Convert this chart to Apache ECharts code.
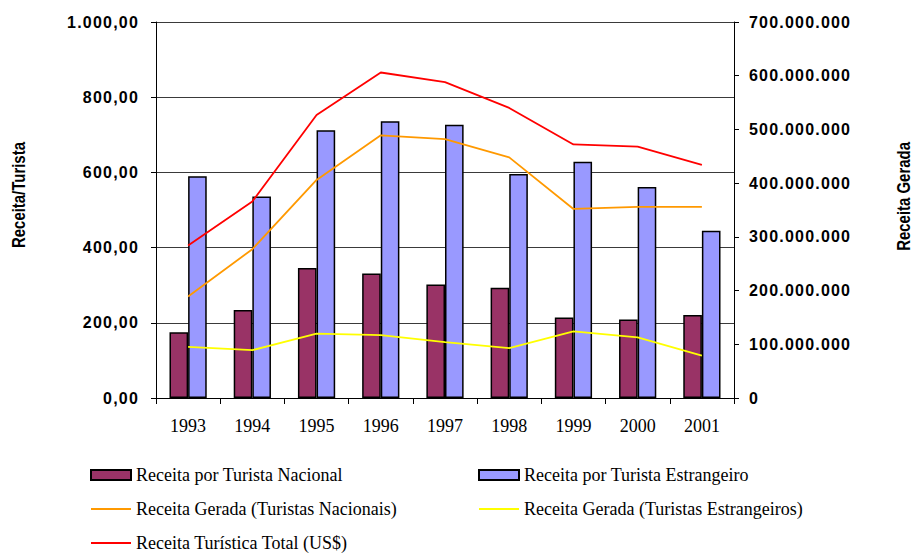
<!DOCTYPE html>
<html>
<head>
<meta charset="utf-8">
<script src="https://cdn.jsdelivr.net/npm/echarts@6/dist/echarts.min.js"></script>
<style>
  html, body { margin: 0; padding: 0; background: #fff; }
  #chart { width: 915px; height: 553px; }
  /* tick labels in the original are bold and widely spaced */
  #chart text[style*="bold"] { letter-spacing: 1.2px; }
</style>
</head>
<body>
<div id="chart"></div>
<script>
const years = ['1993', '1994', '1995', '1996', '1997', '1998', '1999', '2000', '2001']
// Receita por turista (eixo esquerdo)
const receitaNacional = [175, 234, 346, 331, 302, 293, 214, 209, 221]
const receitaEstrangeiro = [590, 536, 712, 736, 727, 596, 628, 561, 445]
// Receita gerada (eixo direito)
const geradaNacionais = [189e6, 277e6, 406e6, 489e6, 482e6, 448e6, 352e6, 356e6, 356e6]
const geradaEstrangeiros = [95e6, 89e6, 120e6, 117e6, 104e6, 93e6, 124e6, 113e6, 79e6]
const receitaTotal = [284e6, 366e6, 527e6, 606e6, 588e6, 540e6, 472e6, 468e6, 434e6]

const NAMES = {
  nac: 'Receita por Turista Nacional',
  est: 'Receita por Turista Estrangeiro',
  gNac: 'Receita Gerada (Turistas Nacionais)',
  gEst: 'Receita Gerada (Turistas Estrangeiros)',
  total: 'Receita Turística Total (US$)',
}

function ptBR(v, dec) {
  const parts = v.toFixed(dec).split('.')
  parts[0] = parts[0].replace(/\B(?=(\d{3})+(?!\d))/g, '.')
  return parts.join(',')
}

const tickFont = { fontFamily: 'Liberation Sans, Arial, sans-serif', fontWeight: 'bold', fontSize: 16, color: '#000' }
const serif = 'Liberation Serif, Times New Roman, serif'
// legend line icon: 2px bar in the middle of a 40x10 box
const LINE_ICON = 'path://M0,0L40,0Z M0,4H40V6H0Z M0,10L40,10Z'

const chart = echarts.init(document.getElementById('chart'), null, { renderer: 'svg' })

const legendCommon = {
  orient: 'vertical',
  padding: 0,
  itemWidth: 40,
  itemHeight: 10,
  itemGap: 16,
  textStyle: { fontFamily: serif, fontSize: 18, color: '#000', lineHeight: 18 },
}

// axis titles: condensed heavy sans, drawn vertically
const titleStyle = { fontFamily: 'Liberation Sans, Arial, sans-serif', fontWeight: 600, fontSize: 18, fill: '#000' }

chart.setOption({
  animation: false,
  grid: { left: 156, right: 181, top: 22, bottom: 155 },
  legend: [
    Object.assign({}, legendCommon, {
      left: 90, top: 466,
      data: [
        { name: NAMES.nac, icon: 'rect' },
        { name: NAMES.gNac, icon: LINE_ICON },
        { name: NAMES.total, icon: LINE_ICON },
      ],
    }),
    Object.assign({}, legendCommon, {
      left: 478, top: 466,
      data: [
        { name: NAMES.est, icon: 'rect' },
        { name: NAMES.gEst, icon: LINE_ICON },
      ],
    }),
  ],
  xAxis: {
    type: 'category',
    data: years,
    axisLine: { lineStyle: { color: '#000', width: 1 } },
    axisTick: { show: true, length: 6, lineStyle: { color: '#000' } },
    axisLabel: { fontFamily: serif, fontSize: 18, color: '#000', margin: 19 },
  },
  yAxis: [
    {
      type: 'value',
      min: 0, max: 1000, interval: 200,
      axisLine: { show: true, lineStyle: { color: '#000', width: 1 } },
      axisTick: { show: true, length: 5, lineStyle: { color: '#000' } },
      axisLabel: Object.assign({}, tickFont, { margin: 17, formatter: v => ptBR(v, 2) }),
      splitLine: { lineStyle: { color: '#3a3a3a', width: 1 } },
    },
    {
      type: 'value',
      min: 0, max: 700e6, interval: 100e6,
      position: 'right',
      axisLine: { show: true, lineStyle: { color: '#000', width: 1 } },
      axisTick: { show: true, length: 5, lineStyle: { color: '#000' } },
      axisLabel: Object.assign({}, tickFont, { margin: 15, formatter: v => ptBR(v, 0) }),
      splitLine: { show: false },
    },
  ],
  graphic: [
    {
      type: 'text', left: 10, top: 142, rotation: Math.PI / 2, scaleX: 0.83,
      style: Object.assign({ text: 'Receita/Turista' }, titleStyle),
    },
    {
      type: 'text', left: 895, top: 142, rotation: Math.PI / 2, scaleX: 0.83,
      style: Object.assign({ text: 'Receita Gerada' }, titleStyle),
    },
  ],
  series: [
    {
      name: NAMES.nac, type: 'bar', data: receitaNacional,
      barGap: '0%', barCategoryGap: '42%',
      itemStyle: { color: '#993366', borderColor: '#000', borderWidth: 1.5 },
    },
    {
      name: NAMES.est, type: 'bar', data: receitaEstrangeiro,
      barGap: '0%', barCategoryGap: '42%',
      itemStyle: { color: '#9999FF', borderColor: '#000', borderWidth: 1.5 },
    },
    {
      name: NAMES.gNac, type: 'line', yAxisIndex: 1, data: geradaNacionais,
      symbol: 'none', lineStyle: { color: '#FF9900', width: 1.8 }, itemStyle: { color: '#FF9900' },
    },
    {
      name: NAMES.gEst, type: 'line', yAxisIndex: 1, data: geradaEstrangeiros,
      symbol: 'none', lineStyle: { color: '#FFFF00', width: 1.8 }, itemStyle: { color: '#FFFF00' },
    },
    {
      name: NAMES.total, type: 'line', yAxisIndex: 1, data: receitaTotal,
      symbol: 'none', lineStyle: { color: '#FF0000', width: 1.8 }, itemStyle: { color: '#FF0000' },
    },
  ],
})
</script>
</body>
</html>
